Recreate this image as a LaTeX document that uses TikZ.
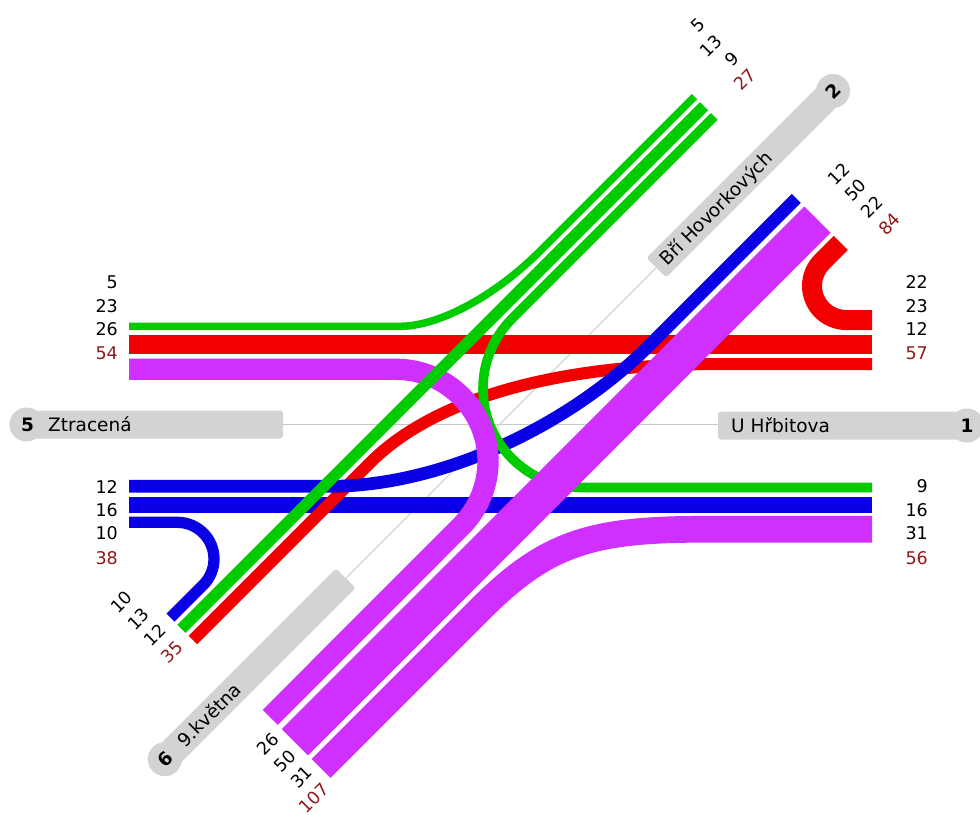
\documentclass[tikz,border=0pt]{standalone}
\usepackage{fontspec}
\setmainfont{DejaVu Sans}
\definecolor{cG}{RGB}{0,204,0}
\definecolor{cR}{RGB}{242,0,0}
\definecolor{cB}{RGB}{10,0,230}
\definecolor{cP}{RGB}{208,48,255}
\definecolor{cT}{RGB}{145,25,25}
\definecolor{cBox}{RGB}{211,211,211}
\definecolor{cLine}{RGB}{200,200,200}
\tikzset{
  lab/.style={font=\fontsize{17.5}{20}\selectfont, inner sep=0pt, anchor=east},
  tot/.style={lab, text=cT},
  boxtext/.style={font=\fontsize{18.5}{22}\selectfont, inner sep=0pt, anchor=base west},
  boxnum/.style={font=\bfseries\fontsize{18.5}{22}\selectfont, inner sep=0pt},
  guide/.style={cLine, line width=1pt},
  boxfill/.style={cBox, rounded corners=3pt},
}
\begin{document}
\begin{tikzpicture}[x=1pt,y=-1pt]
\useasboundingbox (0,0) rectangle (980,814);
\fill[white] (0,0) rectangle (980,814);
% guide lines
\draw[guide] (283,424) -- (718,424);
\draw[guide] (656.3,267.7) -- (345.85,578.15);
% horizontal boxes
\fill[boxfill] (26.5,410.5) rectangle (283,438.5);
\fill[cBox] (26.5,424.5) circle[radius=17pt];
\node[boxnum] (n5) at (27.5,424.5) {5};
\node[boxtext] (tZ) at (48,431.5) {Ztracená};
\fill[boxfill] (718,411.5) rectangle (967,439.5);
\fill[cBox] (967,425.5) circle[radius=17pt];
\node[boxnum] (n1) at (967,425.5) {1};
\node[boxtext] (tU) at (731,432.5) {U Hřbitova};
% diagonal boxes
\begin{scope}[shift={(500,424)}, rotate=45]
  \fill[boxfill] (221,-13.8) rectangle (471,13.8);
  \fill[cBox] (471,0) circle[radius=17pt];
  \node[boxnum, transform shape] (n2) at (471,0) {2};
  \node[boxtext, transform shape] (tB) at (229,7) {Bří Hovorkových};
  \fill[boxfill] (-474,-13.8) rectangle (-218,13.8);
  \fill[cBox] (-474,0) circle[radius=17pt];
  \node[boxnum, transform shape] (n6) at (-474,0) {6};
  \node[boxtext, transform shape] (tK) at (-452,7) {9.května};
\end{scope}
% flows
\draw[cB, line width=16pt] (129,504.5) -- (872,504.5);
\draw[cB, line width=11.3pt] (129,522.3) -- (177.3,522.3) .. controls (197.6,522.3) and (214,538.7) .. (214,559) .. controls (214,568.7) and (210.1,578.1) .. (203.25,584.95) -- (170.5,617.7);
\draw[cR, line width=19.3pt] (129,344.5) -- (872,344.5);
\draw[cR, line width=12pt] (872,364) -- (720,364) .. controls (544.2,364) and (429.3,403.5) .. (370,462.8) -- (192.8,640);
\draw[cB, line width=12.7pt] (796.3,198.4) -- (650,344.7) .. controls (565.05,429.66) and (437.05,486.3) .. (330,486.3) -- (129,486.3);
\draw[cG, line width=9.6pt] (714.25,116.4) -- (512,318.7) .. controls (493.45,337.25) and (483,362.4) .. (483,388.6) .. controls (483,443.2) and (527.3,487.5) .. (581.9,487.5) -- (872,487.5);
\draw[cP, line width=21.3pt] (129,369.3) -- (396,369.3) .. controls (446.8,369.3) and (488,410.5) .. (488,461.3) .. controls (488,485.7) and (478.3,509.1) .. (461.05,526.35) -- (270.2,717.4);
\draw[cG, line width=7.5pt] (129,326.3) -- (400,326.3) .. controls (438.9,326.3) and (494.9,296.2) .. (540,251.1) -- (694.46,96.61);
\draw[cG, line width=11.5pt] (704.0,106.15) -- (181.45,628.71);
\draw[cR, line width=20pt] (872,320) -- (846.1,320) .. controls (827.3,320) and (812,304.7) .. (812,285.9) .. controls (812,276.9) and (815.6,268.2) .. (822,261.8) -- (840.83,242.98);
\draw[cP, line width=26.7pt] (872,529.3) -- (700,529.3) .. controls (588.1,529.3) and (544.1,545.3) .. (480,609.5) -- (321.1,768.36);
\draw[cP, line width=37pt] (817.49,219.65) -- (294.94,742.2);
% horizontal labels
\node[lab] (w1) at (118,282) {5};
\node[lab] (w2) at (118,306) {23};
\node[lab] (w3) at (118,329.5) {26};
\node[tot] (w4) at (118,353.5) {54};
\node[lab] (w5) at (118,486.5) {12};
\node[lab] (w6) at (118,510) {16};
\node[lab] (w7) at (118,533.5) {10};
\node[tot] (w8) at (118,558) {38};
\node[lab] (e1) at (928,282) {22};
\node[lab] (e2) at (928,306) {23};
\node[lab] (e3) at (928,329.5) {12};
\node[tot] (e4) at (928,353.5) {57};
\node[lab] (e5) at (928,486.5) {9};
\node[lab] (e6) at (928,510) {16};
\node[lab] (e7) at (928,533.5) {31};
\node[tot] (e8) at (928,558) {56};
% diagonal labels
\begin{scope}[shift={(500,424)}, rotate=45]
  \node[lab, transform shape] (ne1) at (428,-142) {5};
  \node[lab, transform shape] (ne2) at (428,-118) {13};
  \node[lab, transform shape] (ne3) at (428,-94.5) {9};
  \node[tot, transform shape] (ne4) at (428,-70.5) {27};
  \node[lab, transform shape] (ne5) at (428,62.5) {12};
  \node[lab, transform shape] (ne6) at (428,86) {50};
  \node[lab, transform shape] (ne7) at (428,109.5) {22};
  \node[tot, transform shape] (ne8) at (428,134) {84};
  \node[lab, transform shape] (sw1) at (-382,-142) {10};
  \node[lab, transform shape] (sw2) at (-382,-118) {13};
  \node[lab, transform shape] (sw3) at (-382,-94.5) {12};
  \node[tot, transform shape] (sw4) at (-382,-70.5) {35};
  \node[lab, transform shape] (sw5) at (-379,62.5) {26};
  \node[lab, transform shape] (sw6) at (-379,86) {50};
  \node[lab, transform shape] (sw7) at (-379,109.5) {31};
  \node[tot, transform shape] (sw8) at (-379,133) {107};
\end{scope}
\end{tikzpicture}
\end{document}
